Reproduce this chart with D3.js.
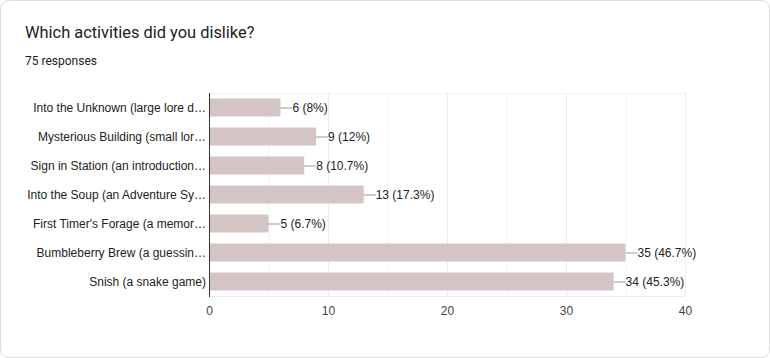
<!DOCTYPE html>
<html><head><meta charset="utf-8">
<script src="https://cdn.jsdelivr.net/npm/d3@7"></script>
<style>
html,body{margin:0;padding:0;background:#fff;}
svg{display:block;}
</style></head>
<body>
<svg id="chart" width="770" height="358"></svg>
<script>
const title = "Which activities did you dislike?";
const subtitle = "75 responses";
const categories = [
  "Into the Unknown (large lore d…",
  "Mysterious Building (small lor…",
  "Sign in Station (an introduction…",
  "Into the Soup (an Adventure Sy…",
  "First Timer's Forage (a memor…",
  "Bumbleberry Brew (a guessin…",
  "Snish (a snake game)"
];
const counts = [6, 9, 8, 13, 5, 35, 34];
const percents = ["8%", "12%", "10.7%", "17.3%", "6.7%", "46.7%", "45.3%"];
const xTicks = [0, 10, 20, 30, 40];
const xMinorTicks = [5, 15, 25, 35];

(function () {
const svg = d3.select("#chart");
svg.append("rect").attr("x", 0.5).attr("y", 0.5).attr("width", 769).attr("height", 357)
  .attr("rx", 8).attr("fill", "#fff").attr("stroke", "#dadce0");

svg.append("text").attr("x", 25).attr("y", 38).text(title)
  .attr("font-family", "Roboto, Arial, sans-serif").attr("font-size", 16.4).attr("fill", "#202124");
svg.append("text").attr("x", 25).attr("y", 65).text(subtitle)
  .attr("font-family", "Roboto, Arial, sans-serif").attr("font-size", 12).attr("fill", "#202124");

const pl = 209, pr = 685, pt = 93, pb = 296;
const x = d3.scaleLinear().domain([0, 40]).range([pl, pr]);
const y = d3.scaleBand().domain(categories).range([pt, pb]).paddingInner(0.38).paddingOuter(0.19);

const g = svg.append("g");
g.selectAll("line.minor").data(xMinorTicks).enter().append("line")
  .attr("x1", d => x(d) + 0.5).attr("x2", d => x(d) + 0.5)
  .attr("y1", pt).attr("y2", pb).attr("stroke", "#f3f3f3");
g.selectAll("line.major").data(xTicks.slice(1)).enter().append("line")
  .attr("x1", d => x(d) + 0.5).attr("x2", d => x(d) + 0.5)
  .attr("y1", pt).attr("y2", pb).attr("stroke", "#ebebeb");
g.append("line").attr("x1", pl).attr("x2", pr).attr("y1", pt + 0.5).attr("y2", pt + 0.5).attr("stroke", "#f3f3f3");
g.append("line").attr("x1", pl).attr("x2", pr + 1).attr("y1", pb + 0.5).attr("y2", pb + 0.5).attr("stroke", "#ebebeb");

g.selectAll("rect.bar").data(counts).enter().append("rect")
  .attr("x", x(0)).attr("y", (d, i) => y(categories[i]))
  .attr("width", d => x(d) - x(0)).attr("height", y.bandwidth())
  .attr("fill", "#d5c4c4");

g.append("line").attr("x1", pl + 0.5).attr("x2", pl + 0.5).attr("y1", pt).attr("y2", pb + 1).attr("stroke", "#333");

g.selectAll("text.cat").data(categories).enter().append("text")
  .attr("x", pl - 3).attr("y", d => y(d) + y.bandwidth() / 2 + 4)
  .attr("text-anchor", "end").text(d => d)
  .attr("font-family", "Arial, 'Liberation Sans', sans-serif").attr("font-size", 12).attr("fill", "#222");

counts.forEach((d, i) => {
  const cy = y(categories[i]) + y.bandwidth() / 2;
  g.append("line").attr("x1", x(d)).attr("x2", x(d) + 12).attr("y1", cy + 0.5).attr("y2", cy + 0.5).attr("stroke", "#999");
  g.append("text").attr("x", x(d) + 12).attr("y", cy + 4).text(d + " (" + percents[i] + ")")
    .attr("font-family", "Arial, 'Liberation Sans', sans-serif").attr("font-size", 12).attr("fill", "#222");
});

const xAxis = d3.axisBottom(x).tickValues(xTicks).tickSize(0).tickPadding(9);
const ax = svg.append("g").attr("transform", `translate(0,${pb + 1})`).call(xAxis);
ax.select(".domain").remove();
ax.selectAll("text").attr("font-family", "Arial, 'Liberation Sans', sans-serif").attr("font-size", 12).attr("fill", "#444");
})();
</script>
</body></html>
